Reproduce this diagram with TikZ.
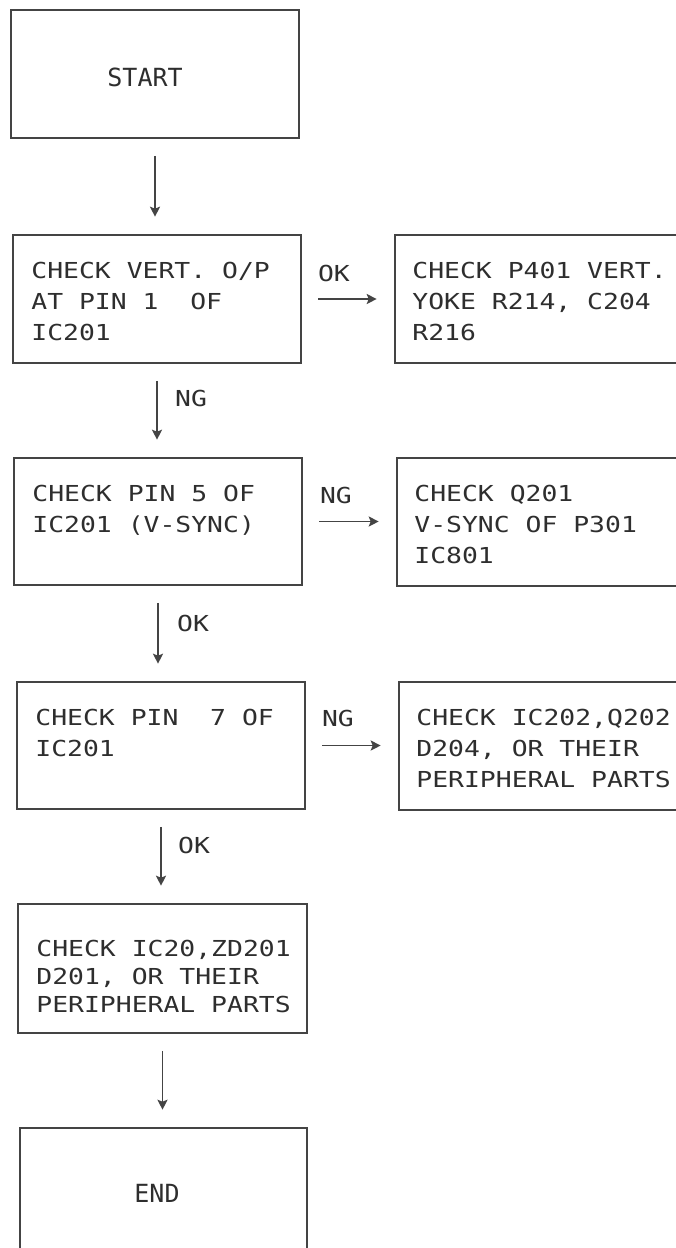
\documentclass[tikz,border=0pt]{standalone}
\usepackage{fontspec}
\usetikzlibrary{arrows.meta,calc}
\newfontfamily\boxfont[FakeStretch=1.2]{DejaVu Sans Mono}
\newfontfamily\termfont{DejaVu Sans Mono}
\definecolor{ink}{HTML}{2E2E2E}
\definecolor{linec}{HTML}{444444}
\newcommand\topstrut{\rule{0pt}{18pt}}
\begin{document}
\begin{tikzpicture}[x=1pt,y=-1pt,
  box/.style={draw=linec, line width=1.6pt, inner sep=0pt, rectangle},
  txt/.style={text=ink, font=\boxfont\fontsize{22}{31}\selectfont, align=left, anchor=north west, inner sep=0pt},
  txtb/.style={txt, font=\boxfont\fontsize{22}{28}\selectfont},
  term/.style={text=ink, font=\termfont\fontsize{25}{30}\selectfont, anchor=base west, inner sep=0pt},
  lbl/.style={text=ink, font=\boxfont\fontsize{22}{31}\selectfont, anchor=base west, inner sep=0pt},
  arr/.style={draw=linec, line width=1.5pt, -{Stealth[length=10pt,width=10pt,inset=2pt]}},
  varr/.style={arr, shorten <=17pt, shorten >=17.5pt},
  harr/.style={arr, shorten <=16.5pt, shorten >=17.5pt}
]
\useasboundingbox (0,0) rectangle (676,1248);
\clip (0,0) rectangle (676,1248);
\fill[white] (0,0) rectangle (676,1248);

% boxes
\node[box, minimum width=288pt, minimum height=128pt] (start) at (155,74) {};
\node[box, minimum width=288pt, minimum height=128pt] (b2) at (157,299) {};
\node[box, minimum width=325pt, minimum height=128pt] (r2) at (557.5,299) {};
\node[box, minimum width=288pt, minimum height=127pt] (b3) at (158,521.5) {};
\node[box, minimum width=323pt, minimum height=128pt] (r3) at (558.5,522) {};
\node[box, minimum width=288pt, minimum height=127pt] (b4) at (161,745.5) {};
\node[box, minimum width=321pt, minimum height=128pt] (r4) at (559.5,746) {};
\node[box, minimum width=289pt, minimum height=129pt] (b5) at (162.5,968.5) {};
\node[box, minimum width=287pt, minimum height=162pt] (end) at (163.5,1209) {};

% texts
\node[term] (tstart) at ($(start.north west)+(97,77)$) {START};
\node[txt] (t2) at ($(b2.north west)+(19,26)$) {\topstrut CHECK VERT. O/P\\AT PIN 1~ OF\\IC201};
\node[txt] (tr2) at ($(r2.north west)+(18,26)$) {\topstrut CHECK P401 VERT.\\YOKE R214, C204\\R216};
\node[txt] (t3) at ($(b3.north west)+(19,26)$) {\topstrut CHECK PIN 5 OF\\IC201 (V-SYNC)};
\node[txt] (tr3) at ($(r3.north west)+(18,26)$) {\topstrut CHECK Q201\\V-SYNC OF P301\\IC801};
\node[txt] (t4) at ($(b4.north west)+(19,26)$) {\topstrut CHECK PIN~ 7 OF\\IC201};
\node[txt] (tr4) at ($(r4.north west)+(18,26)$) {\topstrut CHECK IC202,Q202\\D204, OR THEIR\\PERIPHERAL PARTS};
\node[txtb] (t5) at ($(b5.north west)+(19,35)$) {\topstrut CHECK IC20,ZD201\\D201, OR THEIR\\PERIPHERAL PARTS};
\node[term] (tend) at ($(end.north west)+(115,75)$) {END};

% vertical connectors
\draw[varr] (start.south) -- (start.south |- b2.north);
\draw[varr] (b2.south) -- (b2.south |- b3.north);
\draw[varr] (b3.south) -- (b3.south |- b4.north);
\draw[varr] (b4.south) -- (b4.south |- b5.north);
\draw[varr] (b5.south) -- (b5.south |- end.north);

% horizontal connectors
\draw[harr] (b2.east) -- (r2.west);
\draw[harr] (b3.east) -- (b3.east -| r3.west);
\draw[harr] (b4.east) -- (b4.east -| r4.west);

% labels
\node[lbl] (l2v) at ($(b2.south)+(18,43)$) {NG};
\node[lbl] (l3v) at ($(b3.south)+(19,46)$) {OK};
\node[lbl] (l4v) at ($(b4.south)+(17,44)$) {OK};
\node[lbl] (l2h) at ($(b2.east)+(16,-18)$) {OK};
\node[lbl] (l3h) at ($(b3.east)+(17,-18.5)$) {NG};
\node[lbl] (l4h) at ($(b4.east)+(16,-19.5)$) {NG};
\end{tikzpicture}
\end{document}
